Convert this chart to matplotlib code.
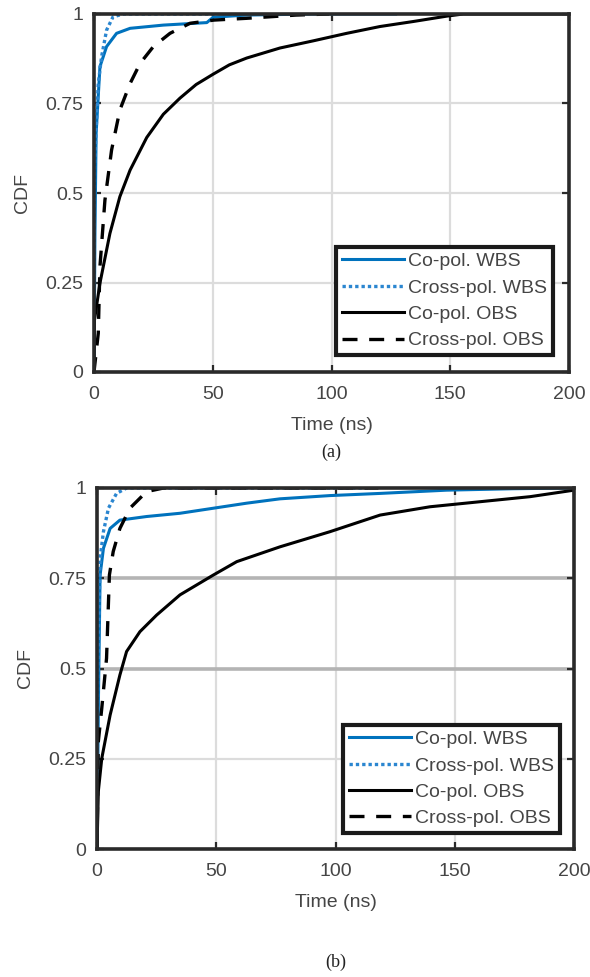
import matplotlib
matplotlib.use("Agg")
import matplotlib.pyplot as plt

plt.rcParams['font.family'] = ['Liberation Sans', 'DejaVu Sans']

# ---- panel (a) ----
a_copol_wbs_t = [0, 0.4, 0.9, 2.5, 5.3, 9.5, 15.2, 29.2, 47.5, 50.2, 64, 92, 127]
a_copol_wbs_cdf = [0, 0.387, 0.667, 0.853, 0.909, 0.946, 0.96, 0.969, 0.976, 0.991, 0.997, 1.0, 1.0]

a_xpol_wbs_t = [0, 0.2, 1.8, 3.2, 5.3, 8.0, 12.3, 60]
a_xpol_wbs_cdf = [0, 0.573, 0.806, 0.881, 0.955, 0.992, 1.0, 1.0]

a_copol_obs_t = [0, 0.2, 2.5, 6.7, 10.9, 15.2, 22.2, 29.2, 36.2, 43, 50.2, 57, 64.3, 78.3,
                 92.3, 106.4, 120.4, 134.4, 148.5, 155.5, 200]
a_copol_obs_cdf = [0, 0.145, 0.248, 0.387, 0.49, 0.564, 0.655, 0.72, 0.765, 0.803, 0.832,
                   0.858, 0.877, 0.905, 0.925, 0.946, 0.965, 0.979, 0.994, 1.0, 1.0]

a_xpol_obs_t = [0, 1.8, 2.5, 4.6, 7.4, 10.9, 15.2, 19.4, 25, 32, 40.4, 50.5, 64.3, 85, 99]
a_xpol_obs_cdf = [0, 0.108, 0.294, 0.48, 0.62, 0.732, 0.806, 0.862, 0.909, 0.946, 0.974,
                  0.983, 0.988, 0.997, 1.0]

# ---- panel (b) ----
b_copol_wbs_t = [0, 0.55, 1.3, 2.7, 5.5, 9.6, 20.8, 34.8, 48.8, 62.8, 76.7, 97.7, 118.7,
                 146.6, 174.6, 200]
b_copol_wbs_cdf = [0, 0.39, 0.759, 0.833, 0.888, 0.911, 0.921, 0.93, 0.944, 0.958, 0.97,
                   0.979, 0.985, 0.994, 0.998, 1.0]

b_xpol_wbs_t = [0, 0.3, 1.3, 2.7, 4.8, 8.2, 12.4, 114]
b_xpol_wbs_cdf = [0, 0.482, 0.805, 0.879, 0.944, 0.985, 1.0, 1.0]

b_copol_obs_t = [0, 0.55, 2.0, 5.5, 9.6, 12.4, 18, 25, 34.8, 48.8, 58.6, 76.7, 97.7, 118.7,
                 139.6, 160.6, 181.6, 200]
b_copol_obs_cdf = [0, 0.159, 0.251, 0.371, 0.482, 0.547, 0.602, 0.648, 0.704, 0.759, 0.796,
                   0.837, 0.879, 0.925, 0.948, 0.962, 0.976, 0.994]

b_xpol_obs_t = [0, 0.55, 2.0, 4.0, 5.2, 6.8, 9.6, 13.8, 20.8, 27.9, 118]
b_xpol_obs_cdf = [0, 0.297, 0.39, 0.528, 0.759, 0.824, 0.888, 0.944, 0.99, 1.0, 1.0]

legend_labels = ['Co-pol. WBS', 'Cross-pol. WBS', 'Co-pol. OBS', 'Cross-pol. OBS']
x_ticks = [0, 50, 100, 150, 200]
y_ticks = [0, 0.25, 0.5, 0.75, 1]
y_ticklabels = ['0', '0.25', '0.5', '0.75', '1']

BLUE = '#0072BD'
DOT_BLUE = '#2b86d0'
TEXT = '#454545'
SPINE = '#2a2a2a'

fig = plt.figure(figsize=(5.9, 9.77), dpi=100)


def draw_panel(rect, series, legend_anchor, caption, caption_y, dark_rows=()):
    ax = fig.add_axes(rect)
    (t1, c1), (t2, c2), (t3, c3), (t4, c4) = series
    ax.plot(t1, c1, color=BLUE, lw=2.2, solid_joinstyle='round')
    ax.plot(t2, c2, color=DOT_BLUE, lw=2.4, linestyle=(0, (1, 0.9)))
    ax.plot(t3, c3, color='black', lw=2.2)
    ax.plot(t4, c4, color='black', lw=2.4, linestyle=(0, (4.5, 3.5)))

    ax.set_xlim(0, 200)
    ax.set_ylim(0, 1)
    ax.set_xticks(x_ticks)
    ax.set_yticks(y_ticks)
    ax.set_yticklabels(y_ticklabels)
    ax.grid(True, color='#dcdcdc', lw=1.6)
    ax.set_axisbelow(True)
    for i, gl in enumerate(ax.yaxis.get_gridlines()):
        if y_ticks[i] in dark_rows:
            gl.set_color('#b4b4b4')
            gl.set_linewidth(2.6)
    for s in ax.spines.values():
        s.set_color(SPINE)
        s.set_linewidth(2.6)
    ax.tick_params(direction='in', length=5, width=1.6, color=SPINE,
                   labelsize=14, labelcolor=TEXT, top=True, right=True)
    ax.tick_params(axis='x', pad=10)
    ax.tick_params(axis='y', pad=8)
    ax.set_xlabel('Time (ns)', fontsize=14, color=TEXT, labelpad=10)
    ax.set_ylabel('CDF', fontsize=14, color=TEXT, labelpad=10)

    leg = ax.legend(legend_labels, loc='lower right', bbox_to_anchor=legend_anchor,
                    fontsize=14, frameon=True, fancybox=False, framealpha=1,
                    edgecolor='#1a1a1a', handlelength=3.2, handletextpad=0.2,
                    labelspacing=0.45, borderpad=0.3, borderaxespad=0)
    leg.get_frame().set_linewidth(3.0)
    for txt in leg.get_texts():
        txt.set_color(TEXT)
    fig.text(0.5 * (rect[0] * 2 + rect[2]), caption_y, caption,
             family='Liberation Serif', fontsize=13, ha='center', va='center',
             color='#222222')
    return ax


draw_panel([94 / 590, 1 - 372 / 977, 475 / 590, 358 / 977],
           [(a_copol_wbs_t, a_copol_wbs_cdf), (a_xpol_wbs_t, a_xpol_wbs_cdf),
            (a_copol_obs_t, a_copol_obs_cdf), (a_xpol_obs_t, a_xpol_obs_cdf)],
           (0.966, 0.047), '(a)', 1 - 452 / 977)

draw_panel([97 / 590, 1 - 849 / 977, 477 / 590, 361 / 977],
           [(b_copol_wbs_t, b_copol_wbs_cdf), (b_xpol_wbs_t, b_xpol_wbs_cdf),
            (b_copol_obs_t, b_copol_obs_cdf), (b_xpol_obs_t, b_xpol_obs_cdf)],
           (0.971, 0.044), '(b)', 1 - 962 / 977, dark_rows=(0.5, 0.75))

fig.savefig('out.png', dpi=100)
